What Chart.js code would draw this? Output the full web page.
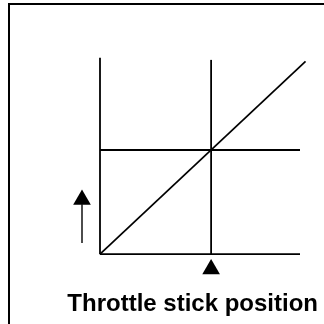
<!DOCTYPE html>
<html>
<head>
<meta charset="utf-8">
<script src="https://cdn.jsdelivr.net/npm/chart.js@4"></script>
<style>
  html, body { margin: 0; padding: 0; background: #fff; overflow: hidden; }
  .frame {
    position: absolute; left: 8px; top: 3px; width: 316px; height: 321px;
    border-left: 2px solid #000; border-top: 2px solid #000; box-sizing: border-box;
  }
  #chart { position: absolute; left: 0; top: 0; }
</style>
</head>
<body>
<div class="frame"></div>
<canvas id="chart" width="324" height="324"></canvas>
<script>
// stick positions of the two vertical guides (0 = idle, 1 = marked position)
const guideX = [0, 1];
const guideTop = [1.885, 1.865];
// output levels of the two horizontal lines
const levelY = [0, 1];
const levelEnd = 1.8;
// response line (output follows the stick)
const responseX = [0, 1.85];
const responseY = [0, 1.85];
// up arrow on the left and the marker under the stick axis
const arrowX = -0.162;
const arrowShaft = [0.106, 0.48];
const arrowHead = 0.523;
const markerY = -0.145;

const black = '#000000';

function lineSet(points, width) {
  return {
    data: points,
    showLine: true,
    borderColor: black,
    borderWidth: width,
    pointRadius: 0,
    clip: false,
  };
}

const datasets = [];
guideX.forEach((x, i) => {
  datasets.push(lineSet([{ x: x, y: 0 }, { x: x, y: guideTop[i] }], 1.8));
});
levelY.forEach(y => {
  datasets.push(lineSet([{ x: 0, y: y }, { x: levelEnd, y: y }], 1.8));
});
datasets.push(lineSet(responseX.map((x, i) => ({ x: x, y: responseY[i] })), 1.7));
datasets.push(lineSet(arrowShaft.map(y => ({ x: arrowX, y: y })), 1.4));
datasets.push({
  data: [{ x: arrowX, y: arrowHead }, { x: guideX[1], y: markerY }],
  pointStyle: 'triangle',
  pointRadius: 10.2,
  borderWidth: 0,
  backgroundColor: black,
  clip: false,
});

Chart.defaults.font.family = "'Liberation Sans', Arial, sans-serif";

new Chart(document.getElementById('chart').getContext('2d'), {
  type: 'scatter',
  data: { datasets: datasets },
  options: {
    responsive: false,
    animation: false,
    devicePixelRatio: 1,
    events: [],
    layout: {
      autoPadding: false, // the triangle markers would otherwise pad the chart area
      padding: { left: 0, right: 6, top: 0, bottom: 5 },
    },
    plugins: {
      legend: { display: false },
      tooltip: { enabled: false },
      title: {
        display: true,
        text: 'Throttle stick position',
        position: 'bottom',
        align: 'end',
        color: black,
        font: { size: 24, weight: 'bold' },
        padding: { top: 10, bottom: 0 },
      },
    },
    scales: {
      x: { type: 'linear', min: -0.9, max: 1.962, display: false },
      y: { type: 'linear', min: -0.25, max: 2.44, display: false },
    },
  },
});
</script>
</body>
</html>
